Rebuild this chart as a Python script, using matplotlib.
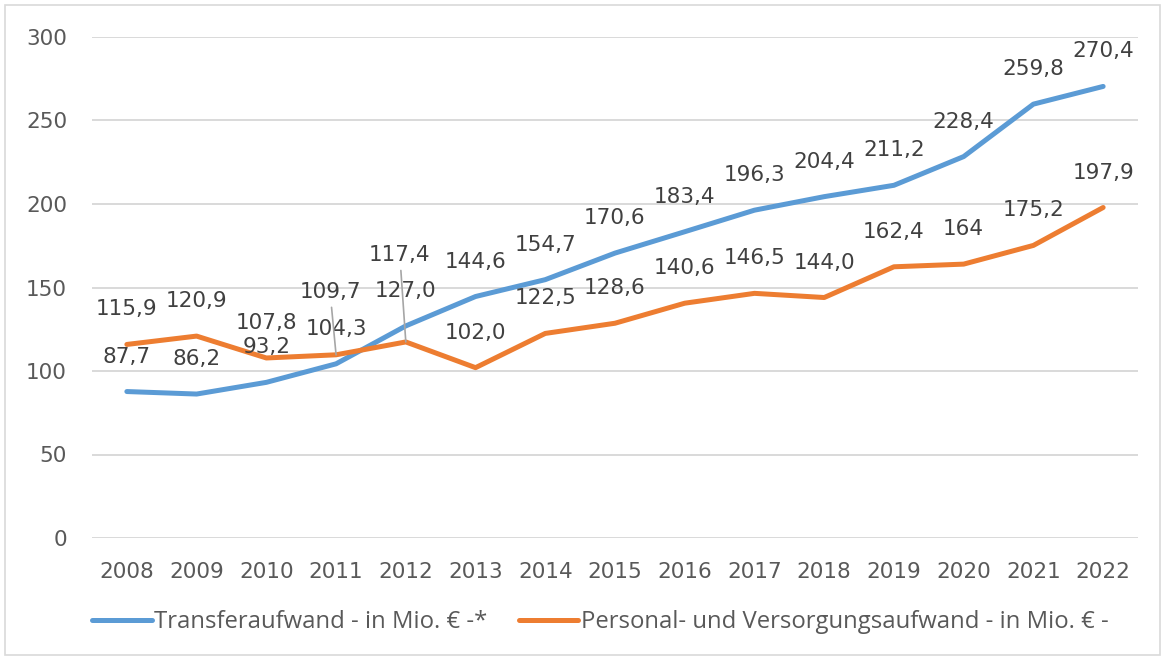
import matplotlib.pyplot as plt
from matplotlib.patches import Rectangle

# Daten
years = ["2008", "2009", "2010", "2011", "2012", "2013", "2014", "2015",
         "2016", "2017", "2018", "2019", "2020", "2021", "2022"]
transfer = [87.7, 86.2, 93.2, 104.3, 127.0, 144.6, 154.7, 170.6,
            183.4, 196.3, 204.4, 211.2, 228.4, 259.8, 270.4]
personal = [115.9, 120.9, 107.8, 109.7, 117.4, 102.0, 122.5, 128.6,
            140.6, 146.5, 144.0, 162.4, 164, 175.2, 197.9]
transfer_labels = ["87,7", "86,2", "93,2", "104,3", "127,0", "144,6", "154,7", "170,6",
                   "183,4", "196,3", "204,4", "211,2", "228,4", "259,8", "270,4"]
personal_labels = ["115,9", "120,9", "107,8", "109,7", "117,4", "102,0", "122,5", "128,6",
                   "140,6", "146,5", "144,0", "162,4", "164", "175,2", "197,9"]
yticks = [0, 50, 100, 150, 200, 250, 300]

BLUE = "#5B9BD5"
ORANGE = "#ED7D31"
GRID = "#D9D9D9"
TXT = "#595959"
LBL = "#404040"
FS = 15.5

# label offsets in pixels (dx, dy), default above the point
pers_off = {3: (-6, 63), 4: (-6, 87)}

fig = plt.figure(figsize=(11.66, 6.6), dpi=100)
ax = fig.add_axes([92 / 1166, 1 - 538 / 660, (1138 - 92) / 1166, (538 - 37) / 660])

x = list(range(len(years)))
ax.plot(x, transfer, color=BLUE, lw=3.6, solid_capstyle="round",
        label="Transferaufwand - in Mio. € -*", zorder=3)
ax.plot(x, personal, color=ORANGE, lw=3.6, solid_capstyle="round",
        label="Personal- und Versorgungsaufwand - in Mio. € -", zorder=3)

for i in x:
    ax.annotate(transfer_labels[i], (i, transfer[i]), xytext=(0, 35),
                textcoords="offset pixels", ha="center", va="center",
                fontsize=FS, color=LBL, zorder=4)
    dx, dy = pers_off.get(i, (0, 35))
    kw = {}
    if i in pers_off:
        kw["arrowprops"] = dict(arrowstyle="-", color="#A6A6A6", lw=1.2,
                                shrinkA=2, shrinkB=0)
    ax.annotate(personal_labels[i], (i, personal[i]), xytext=(dx, dy),
                textcoords="offset pixels", ha="center", va="center",
                fontsize=FS, color=LBL, zorder=4, **kw)

ax.set_xlim(-0.5, len(years) - 0.5)
ax.set_ylim(0, 300)
ax.set_yticks(yticks)
ax.set_xticks(x)
ax.set_xticklabels(years)
ax.grid(axis="y", color=GRID, lw=1.4)
ax.set_axisbelow(True)
for s in ax.spines.values():
    s.set_visible(False)
ax.tick_params(axis="both", length=0, labelsize=FS, labelcolor=TXT)
ax.tick_params(axis="y", pad=18)
ax.tick_params(axis="x", pad=17)

leg = fig.legend(loc="center", bbox_to_anchor=(0.515, 1 - 622 / 660), ncol=2,
                 frameon=False, handlelength=2.5, handletextpad=0.1,
                 columnspacing=1.3, prop={"family": "Open Sans", "size": 17.2})
for t in leg.get_texts():
    t.set_color(TXT)

fig.patches.append(Rectangle((5 / 1166, 5 / 660), 1155 / 1166, 650 / 660,
                             transform=fig.transFigure, fill=False,
                             edgecolor=GRID, lw=1.2))

fig.savefig("out.png", dpi=100)
